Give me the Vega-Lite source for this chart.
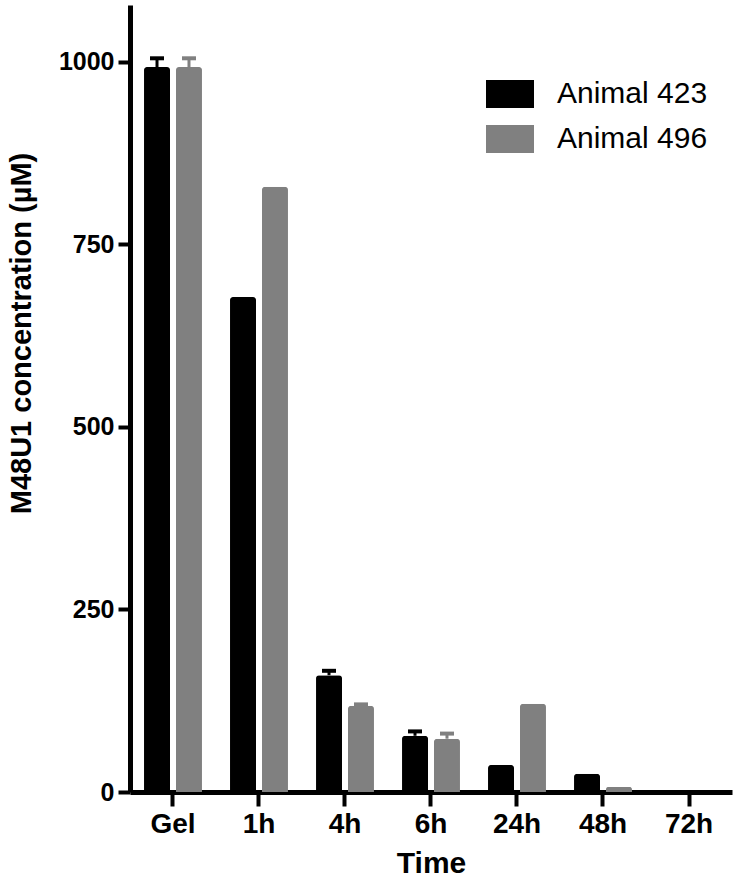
{
  "$schema": "https://vega.github.io/schema/vega-lite/v6.json",
  "width": 602,
  "height": 787,
  "autosize": {"type": "none"},
  "padding": {"left": 130, "top": 5, "right": 6, "bottom": 96},
  "background": "white",
  "config": {"view": {"stroke": null}, "font": "Liberation Sans"},
  "data": {
    "values": [
      {"time": "Gel", "animal": "Animal 423", "mean": 993, "err": 12, "hi": 1005},
      {"time": "Gel", "animal": "Animal 496", "mean": 993, "err": 12, "hi": 1005},
      {"time": "1h", "animal": "Animal 423", "mean": 678, "err": 0, "hi": 678},
      {"time": "1h", "animal": "Animal 496", "mean": 829, "err": 0, "hi": 829},
      {"time": "4h", "animal": "Animal 423", "mean": 160, "err": 6, "hi": 166},
      {"time": "4h", "animal": "Animal 496", "mean": 118, "err": 2, "hi": 120},
      {"time": "6h", "animal": "Animal 423", "mean": 77, "err": 6, "hi": 83},
      {"time": "6h", "animal": "Animal 496", "mean": 73, "err": 7, "hi": 80},
      {"time": "24h", "animal": "Animal 423", "mean": 37, "err": 0, "hi": 37},
      {"time": "24h", "animal": "Animal 496", "mean": 121, "err": 0, "hi": 121},
      {"time": "48h", "animal": "Animal 423", "mean": 25, "err": 0, "hi": 25},
      {"time": "48h", "animal": "Animal 496", "mean": 7, "err": 0, "hi": 7},
      {"time": "72h", "animal": "Animal 423", "mean": 0, "err": 0, "hi": 0},
      {"time": "72h", "animal": "Animal 496", "mean": 0, "err": 0, "hi": 0}
    ]
  },
  "layer": [
    {
      "mark": {"type": "bar", "cornerRadiusTopLeft": 3, "cornerRadiusTopRight": 3},
      "encoding": {
        "x": {
          "field": "time", "type": "nominal",
          "sort": ["Gel", "1h", "4h", "6h", "24h", "48h", "72h"],
          "scale": {"paddingInner": 0.326, "paddingOuter": 0.163},
          "title": "Time",
          "axis": {
            "domainWidth": 5, "domainColor": "black", "tickWidth": 4, "tickSize": 14, "tickColor": "black",
            "labelFontSize": 28, "labelFontWeight": "bold", "labelColor": "black", "labelPadding": 4, "labelAngle": 0,
            "titleFontSize": 30, "titleFontWeight": "bold", "titleColor": "black", "titlePadding": 10, "grid": false
          }
        },
        "xOffset": {"field": "animal", "scale": {"paddingInner": 0.1875, "paddingOuter": 0}},
        "y": {
          "field": "mean", "type": "quantitative",
          "scale": {"domain": [0, 1078], "nice": false},
          "title": "M48U1 concentration (µM)",
          "axis": {
            "values": [0, 250, 500, 750, 1000], "format": "d",
            "domainWidth": 5, "domainColor": "black", "tickWidth": 4, "tickSize": 12, "tickColor": "black",
            "labelFontSize": 25, "labelFontWeight": "bold", "labelColor": "black", "labelPadding": 4,
            "titleFontSize": 29, "titleFontWeight": "bold", "titleColor": "black", "titlePadding": 22,
            "titleY": 328, "grid": false
          }
        },
        "color": {
          "field": "animal", "type": "nominal",
          "scale": {"range": ["#000000", "#808080"]},
          "legend": {
            "orient": "none", "legendX": 356, "legendY": 65, "title": null, "padding": 0,
            "symbolType": "M-1,-0.58H1V0.58H-1Z", "symbolSize": 2304, "symbolStrokeWidth": 0, "symbolOpacity": 1,
            "labelFontSize": 30, "labelFont": "Liberation Sans", "labelFontWeight": "normal", "labelColor": "black",
            "labelOffset": 23, "rowPadding": 6
          }
        }
      }
    },
    {
      "transform": [{"filter": "datum.err > 0"}],
      "mark": {"type": "rule", "strokeWidth": 3},
      "encoding": {
        "x": {"field": "time", "type": "nominal", "sort": ["Gel", "1h", "4h", "6h", "24h", "48h", "72h"]},
        "xOffset": {"field": "animal"},
        "y": {"field": "mean", "type": "quantitative"},
        "y2": {"field": "hi"},
        "stroke": {"field": "animal", "type": "nominal", "scale": {"range": ["#000000", "#808080"]}, "legend": null}
      }
    },
    {
      "transform": [{"filter": "datum.err > 0"}],
      "mark": {"type": "tick", "thickness": 4, "size": 14, "opacity": 1},
      "encoding": {
        "x": {"field": "time", "type": "nominal", "sort": ["Gel", "1h", "4h", "6h", "24h", "48h", "72h"]},
        "xOffset": {"field": "animal"},
        "y": {"field": "hi", "type": "quantitative"},
        "fill": {"field": "animal", "type": "nominal", "scale": {"range": ["#000000", "#808080"]}, "legend": null}
      }
    }
  ]
}
